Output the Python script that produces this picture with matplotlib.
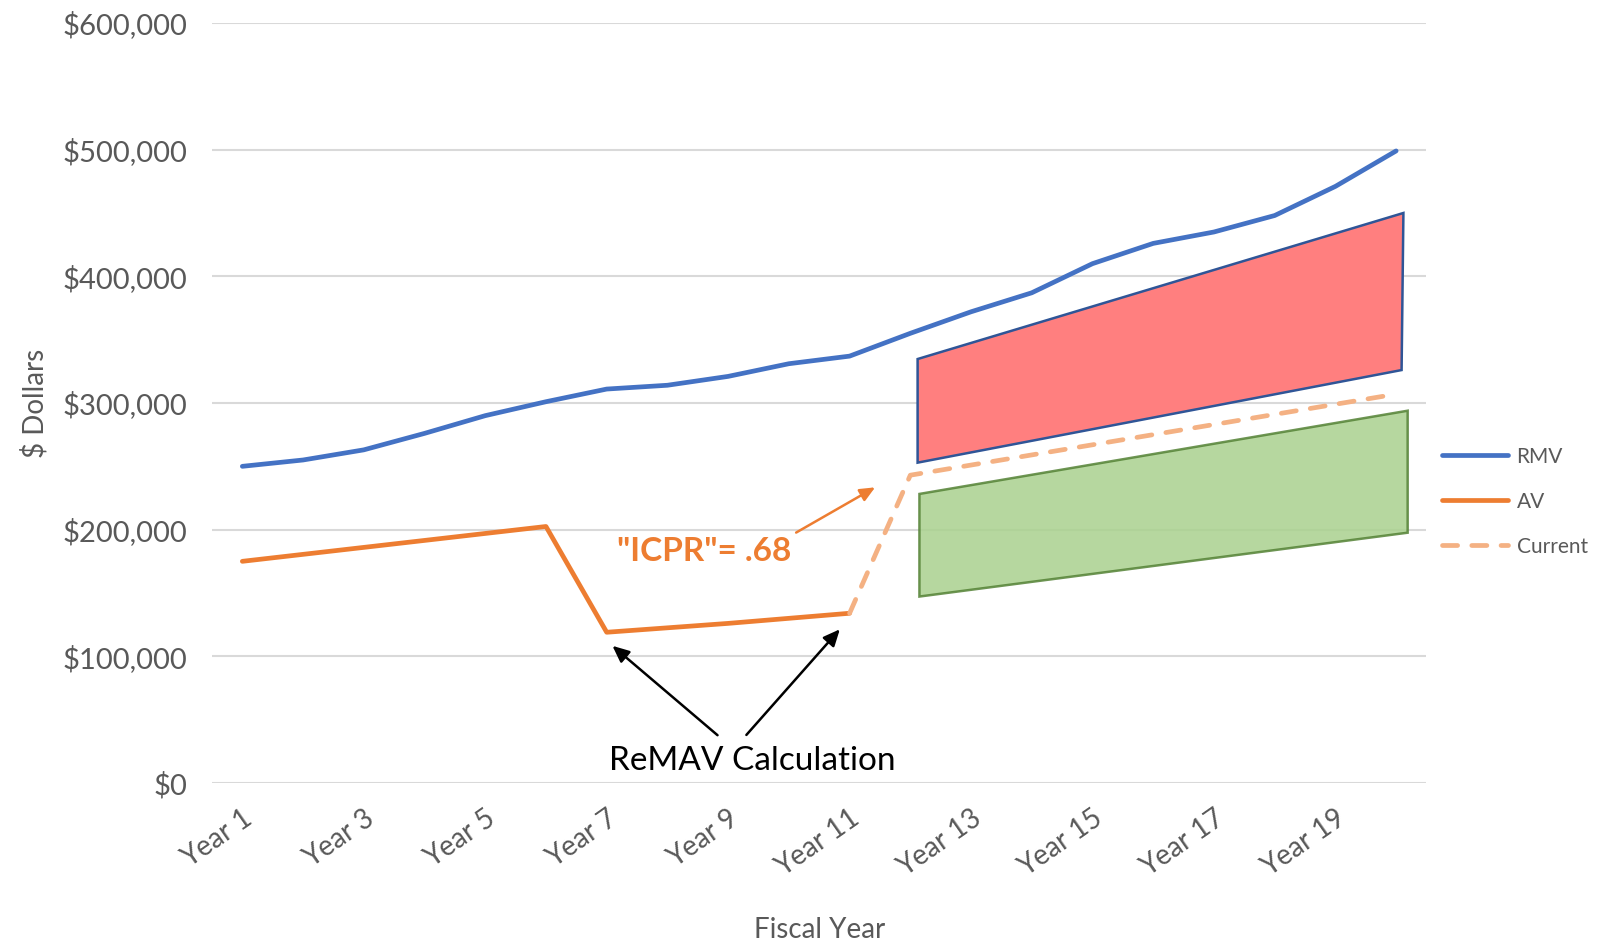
import matplotlib
matplotlib.use("Agg")
import matplotlib.pyplot as plt
from matplotlib.ticker import FuncFormatter, FixedLocator

plt.rcParams['font.family'] = ['Lato', 'DejaVu Sans']

years = list(range(1, 21))
year_labels = [f"Year {y}" for y in years]

rmv = [250000, 255000, 263000, 276000, 290000, 301000, 311000, 314000, 321000, 331000,
       337000, 355000, 372000, 387000, 410000, 426000, 435000, 448000, 471000, 499000]
av_years = list(range(1, 12))
av = [175000, 180500, 186000, 191500, 197000, 202500, 119000, 122500, 126000, 130000, 134000]
cur_years = list(range(11, 21))
current = [134000, 243000, 251000, 259000, 267000, 275000, 283000, 291000, 299000, 307000]

red_x = [12.12, 20.12, 20.09, 12.12]
red_y = [334700, 450000, 326000, 252900]
green_x = [12.15, 20.19, 20.19, 12.15]
green_y = [228200, 293900, 197600, 147200]

fig = plt.figure(figsize=(16.01, 9.42), dpi=100)
ax = fig.add_axes([0.1324, 0.1688, 0.891 - 0.1324, 0.9756 - 0.1688])

ax.set_xlim(0.5, 20.5)
ax.set_ylim(0, 600000)
ax.yaxis.set_major_locator(FixedLocator([0, 100000, 200000, 300000, 400000, 500000, 600000]))
ax.yaxis.set_major_formatter(FuncFormatter(lambda v, p: f"${v:,.0f}"))
ax.grid(axis='y', color='#d9d9d9', linewidth=1.5, zorder=0)
for s in ax.spines.values():
    s.set_visible(False)
ax.tick_params(axis='y', length=0, colors='#595959', labelsize=21, pad=18)
ax.tick_params(axis='x', length=0, colors='#595959', labelsize=20, pad=16)
ax.set_xticks(years[::2])
ax.set_xticklabels(year_labels[::2], rotation=35, ha='right', rotation_mode='anchor')

ax.fill(red_x, red_y, facecolor='#ff7f7f', edgecolor='#2f5597', linewidth=1.8, zorder=2)
ax.fill(green_x, green_y, facecolor='#a9d18e', alpha=0.85, edgecolor='#548235', linewidth=1.8, zorder=2)

ax.plot(years, rmv, color='#4472c4', linewidth=3.4, solid_capstyle='round', label='RMV', zorder=3)
ax.plot(av_years, av, color='#ed7d31', linewidth=3.4, solid_capstyle='round', label='AV', zorder=3)
ax.plot(cur_years, current, color='#f4b183', linewidth=3.4, linestyle=(0, (3.2, 3.0)),
        dash_capstyle='round', label='Current', zorder=3)

ax.set_xlabel('Fiscal Year', fontsize=20, color='#595959', labelpad=26)
ax.set_ylabel('$ Dollars', fontsize=20, color='#595959', labelpad=10)

ax.annotate('', xy=(7.06, 109700), xytext=(8.86, 36300),
            arrowprops=dict(arrowstyle='-|>,head_width=0.45,head_length=1.0', color='black', lw=1.8))
ax.annotate('', xy=(10.87, 123000), xytext=(9.27, 36300),
            arrowprops=dict(arrowstyle='-|>,head_width=0.45,head_length=1.0', color='black', lw=1.8))
ax.text(9.39, 17500, 'ReMAV Calculation', fontsize=24, color='black', ha='center', va='center')

ax.annotate('', xy=(11.46, 234500), xytext=(10.08, 196600),
            arrowprops=dict(arrowstyle='-|>,head_width=0.4,head_length=0.9', color='#ed7d31', lw=1.8))
ax.text(8.6, 183000, '"ICPR"= .68', fontsize=24, color='#ed7d31', fontweight='bold',
        ha='center', va='center')

leg = ax.legend(loc='center left', bbox_to_anchor=(0.997, 0.37), frameon=False, fontsize=15,
                labelcolor='#595959', handlelength=3.2, handletextpad=0.4, labelspacing=1.2)

fig.savefig('out.png', dpi=100)
